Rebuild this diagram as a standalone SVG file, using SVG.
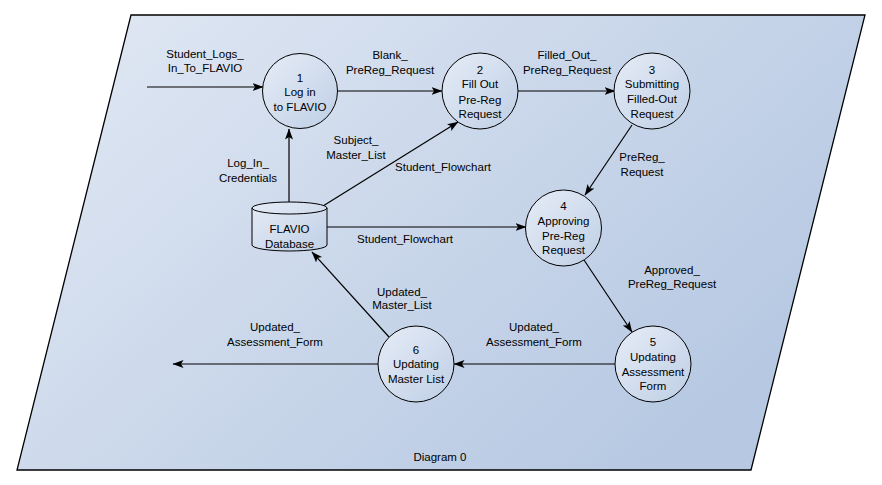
<svg xmlns="http://www.w3.org/2000/svg" width="882" height="485" viewBox="0 0 882 485">
<defs>
<linearGradient id="bg" x1="0" y1="0" x2="1" y2="0.6">
<stop offset="0" stop-color="#e2e9f4"/>
<stop offset="1" stop-color="#b6c8e2"/>
</linearGradient>
<linearGradient id="nd" x1="0" y1="0" x2="1" y2="1">
<stop offset="0" stop-color="#e6ecf6"/>
<stop offset="1" stop-color="#bfcfe6"/>
</linearGradient>
<marker id="ah" markerUnits="userSpaceOnUse" markerWidth="12" markerHeight="9" refX="10.5" refY="4" orient="auto">
<path d="M0,0 L11,4 L0,8 L2.5,4 z" fill="#000"/>
</marker>
<style>
text{font-family:"Liberation Sans",Arial,sans-serif;font-size:11.5px;fill:#000;text-anchor:middle}
.n{fill:url(#nd);stroke:#000;stroke-width:1}
.c{stroke:#000;stroke-width:1.2;fill:none;marker-end:url(#ah)}
.p{stroke:#000;stroke-width:1;fill:none}
</style>
</defs>
<polygon points="131,15 865,15 751,470 17,470" fill="url(#bg)" stroke="#000" stroke-width="1.3"/>
<g id="connectors">
<line class="c" x1="147" y1="87" x2="263" y2="87"/>
<line class="c" x1="337" y1="91" x2="442" y2="91"/>
<line class="c" x1="518" y1="91" x2="615" y2="91"/>
<line class="c" x1="632" y1="125" x2="585" y2="195"/>
<line class="c" x1="584" y1="260" x2="632" y2="332"/>
<line class="c" x1="615" y1="364" x2="454" y2="364"/>
<line class="c" x1="378" y1="364" x2="173" y2="364"/>
<line class="c" x1="389" y1="337" x2="312" y2="252"/>
<line class="c" x1="289" y1="202" x2="289" y2="129"/>
<line class="c" x1="323" y1="206" x2="458" y2="122"/>
<line class="c" x1="327" y1="227" x2="526" y2="227"/>
<text x="205" y="58">Student_Logs_</text>
<text x="205" y="72">In_To_FLAVIO</text>
<text x="390" y="59">Blank_</text>
<text x="390" y="74">PreReg_Request</text>
<text x="567" y="59">Filled_Out_</text>
<text x="567" y="74">PreReg_Request</text>
<text x="356" y="144">Subject_</text>
<text x="356" y="159">Master_List</text>
<text x="443" y="171">Student_Flowchart</text>
<text x="248" y="167">Log_In_</text>
<text x="248" y="182">Credentials</text>
<text x="405" y="243">Student_Flowchart</text>
<text x="642" y="161">PreReg_</text>
<text x="642" y="176">Request</text>
<text x="672" y="274">Approved_</text>
<text x="672" y="288">PreReg_Request</text>
<text x="402" y="296">Updated_</text>
<text x="402" y="309">Master_List</text>
<text x="534" y="331">Updated_</text>
<text x="534" y="346">Assessment_Form</text>
<text x="275" y="331">Updated_</text>
<text x="275" y="346">Assessment_Form</text>
</g>
<g id="p1">
<circle class="n" cx="300" cy="91" r="37.5"/>
<text x="300" y="82">1</text>
<text x="300" y="96">Log in</text>
<text x="300" y="111">to FLAVIO</text>
</g>
<g id="p2">
<circle class="n" cx="480" cy="91" r="38"/>
<text x="480" y="74">2</text>
<text x="480" y="88">Fill Out</text>
<text x="480" y="104">Pre-Reg</text>
<text x="480" y="118">Request</text>
</g>
<g id="p3">
<circle class="n" cx="652" cy="91" r="38"/>
<text x="652" y="74">3</text>
<text x="652" y="88">Submitting</text>
<text x="652" y="103">Filled-Out</text>
<text x="652" y="118">Request</text>
</g>
<g id="p4">
<circle class="n" cx="563.5" cy="228" r="38"/>
<text x="563.5" y="210">4</text>
<text x="563.5" y="225">Approving</text>
<text x="563.5" y="240">Pre-Reg</text>
<text x="563.5" y="254">Request</text>
</g>
<g id="p5">
<circle class="n" cx="653" cy="364" r="38"/>
<text x="653" y="346">5</text>
<text x="653" y="361">Updating</text>
<text x="653" y="376">Assessment</text>
<text x="653" y="390">Form</text>
</g>
<g id="p6">
<circle class="n" cx="416" cy="364" r="38"/>
<text x="416" y="354">6</text>
<text x="416" y="368">Updating</text>
<text x="416" y="383">Master List</text>
</g>
<g id="db">
<path class="n" d="M252,208 A37.5,6 0 0 1 327,208 L327,245 A37.5,6 0 0 1 252,245 Z"/>
<path class="p" d="M252,208 A37.5,6 0 0 0 327,208"/>
<text x="289.5" y="233">FLAVIO</text>
<text x="289.5" y="248">Database</text>
</g>
<text x="440" y="461">Diagram 0</text>
</svg>
